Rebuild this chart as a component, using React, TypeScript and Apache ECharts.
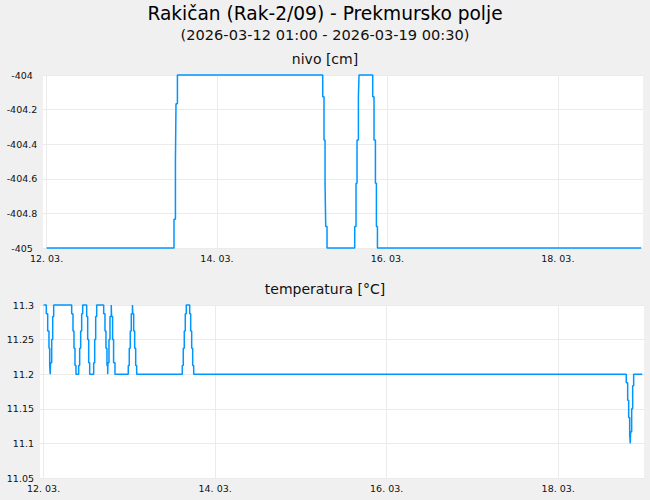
import React, { useEffect, useRef } from 'react';
import * as echarts from 'echarts';

// hours counted from 12.03. 00:00 (first tick)
const tickHours = [0, 48, 96, 144];
const tickLabels = ['12. 03.', '14. 03.', '16. 03.', '18. 03.'];

const nivoHours = [
  0, 35.9, 36.3, 36.46, 36.86, 77.79, 78.15, 78.44, 78.63, 79.0, 86.8, 87.17, 87.45, 87.84, 88.01,
  91.87, 92.24, 92.63, 92.91, 93.2, 167.5,
];
const nivoValues = [
  -405, -404.8333, -404.5, -404.1667, -404, -404.125, -404.375, -404.625, -404.875, -405, -404.875,
  -404.625, -404.375, -404.125, -404, -404.125, -404.375, -404.625, -404.875, -405, -405,
];

const tempHours = [
  0, 0.76, 1.15, 1.51, 1.71, 1.87, 1.95, 2.27, 2.55, 2.83,
  7.86, 8.23, 8.51, 8.79, 9.07, 9.82, 10.1, 10.38, 10.66, 10.94,
  12.06, 12.34, 12.62, 12.9, 14.02, 14.3, 14.58, 14.86,
  16.82, 17.18, 17.46, 17.74, 17.94, 18.02, 18.3, 18.58, 18.94, 19.03, 19.31, 19.59, 19.98,
  23.7, 23.98, 24.26, 24.54, 24.87, 24.96, 25.21, 25.49, 25.77, 26.05,
  38.81, 39.09, 39.37, 39.65, 39.93, 40.88, 41.16, 41.44, 41.72, 42.0,
  163.04, 163.43, 163.71, 163.99, 164.16, 164.27, 164.55, 164.83, 165.11, 167.5,
];
const tempValues = [
  11.3, 11.2875, 11.2625, 11.2375, 11.2125, 11.2, 11.2167, 11.25, 11.2833, 11.3,
  11.2875, 11.2625, 11.2375, 11.2125, 11.2, 11.2125, 11.2375, 11.2625, 11.2875, 11.3,
  11.2833, 11.25, 11.2167, 11.2, 11.2167, 11.25, 11.2833, 11.3,
  11.2875, 11.2625, 11.2375, 11.2125, 11.2, 11.2167, 11.25, 11.2833, 11.3, 11.2833, 11.25, 11.2167, 11.2,
  11.2125, 11.2375, 11.2625, 11.2875, 11.3, 11.2875, 11.2625, 11.2375, 11.2125, 11.2,
  11.2125, 11.2375, 11.2625, 11.2875, 11.3, 11.2875, 11.2625, 11.2375, 11.2125, 11.2,
  11.1875, 11.1625, 11.1375, 11.1125, 11.1, 11.1167, 11.15, 11.1833, 11.2, 11.2,
];

const FONT = 'DejaVu Sans';
const LINE = '#0096ff';
const GRID_LINE = '#ebebeb';

const xAxisFor = (gridIndex: number) => ({
  type: 'value',
  gridIndex,
  min: -1,
  max: 168,
  axisLine: { show: false },
  axisTick: { show: false, customValues: tickHours },
  axisLabel: {
    customValues: tickHours,
    formatter: (v: number) => tickLabels[tickHours.indexOf(v)] ?? '',
    fontFamily: FONT,
    fontSize: 9.5,
    color: '#111',
    margin: 5,
  },
  splitLine: { show: true, lineStyle: { color: GRID_LINE, width: 1 } },
});

const App: React.FC = () => {
  const chartRef = useRef<HTMLDivElement>(null);

  useEffect(() => {
    const chart = echarts.init(chartRef.current!, null, { renderer: 'svg' });

    const option = {
      animation: false,
      backgroundColor: '#f0f0f0',
      title: [
        {
          text: 'Rakičan (Rak-2/09) - Prekmursko polje',
          left: 'center',
          top: 4,
          padding: 0,
          textStyle: { fontFamily: FONT, fontSize: 18.6, fontWeight: 'normal', color: '#000' },
        },
        {
          text: '(2026-03-12 01:00 - 2026-03-19 00:30)',
          left: 'center',
          top: 27,
          padding: 0,
          textStyle: { fontFamily: FONT, fontSize: 14.6, fontWeight: 'normal', color: '#111' },
        },
        {
          text: 'nivo [cm]',
          left: 'center',
          top: 52,
          padding: 0,
          textStyle: { fontFamily: FONT, fontSize: 14, fontWeight: 'normal', color: '#111' },
        },
        {
          text: 'temperatura [°C]',
          left: 'center',
          top: 282,
          padding: 0,
          textStyle: { fontFamily: FONT, fontSize: 14, fontWeight: 'normal', color: '#111' },
        },
      ],
      grid: [
        { left: 43, top: 75, width: 600, height: 173, show: true, backgroundColor: '#fff', borderWidth: 0 },
        { left: 40, top: 305, width: 604, height: 173, show: true, backgroundColor: '#fff', borderWidth: 0 },
      ],
      xAxis: [xAxisFor(0), xAxisFor(1)],
      yAxis: [
        {
          type: 'value',
          gridIndex: 0,
          min: -405,
          max: -404,
          interval: 0.2,
          axisLine: { show: false },
          axisTick: { show: false },
          axisLabel: { fontFamily: FONT, fontSize: 9.5, color: '#111', align: 'center', margin: 21 },
          splitLine: { show: true, lineStyle: { color: GRID_LINE, width: 1 } },
        },
        {
          type: 'value',
          gridIndex: 1,
          min: 11.05,
          max: 11.3,
          interval: 0.05,
          axisLine: { show: false },
          axisTick: { show: false },
          axisLabel: { fontFamily: FONT, fontSize: 9.5, color: '#111', align: 'right', margin: 6 },
          splitLine: { show: true, lineStyle: { color: GRID_LINE, width: 1 } },
        },
      ],
      series: [
        {
          type: 'line',
          xAxisIndex: 0,
          yAxisIndex: 0,
          step: 'end',
          showSymbol: false,
          symbol: 'none',
          clip: false,
          lineStyle: { color: LINE, width: 1.5 },
          data: nivoHours.map((h, i) => [h, nivoValues[i]]),
        },
        {
          type: 'line',
          xAxisIndex: 1,
          yAxisIndex: 1,
          step: 'end',
          showSymbol: false,
          symbol: 'none',
          clip: false,
          lineStyle: { color: LINE, width: 1.5 },
          data: tempHours.map((h, i) => [h, tempValues[i]]),
        },
      ],
    };

    chart.setOption(option as any);

    return () => {
      chart.dispose();
    };
  }, []);

  return (
    <div
      ref={chartRef}
      style={{ position: 'fixed', left: 0, top: 0, width: '650px', height: '500px' }}
    />
  );
};

export default App;
